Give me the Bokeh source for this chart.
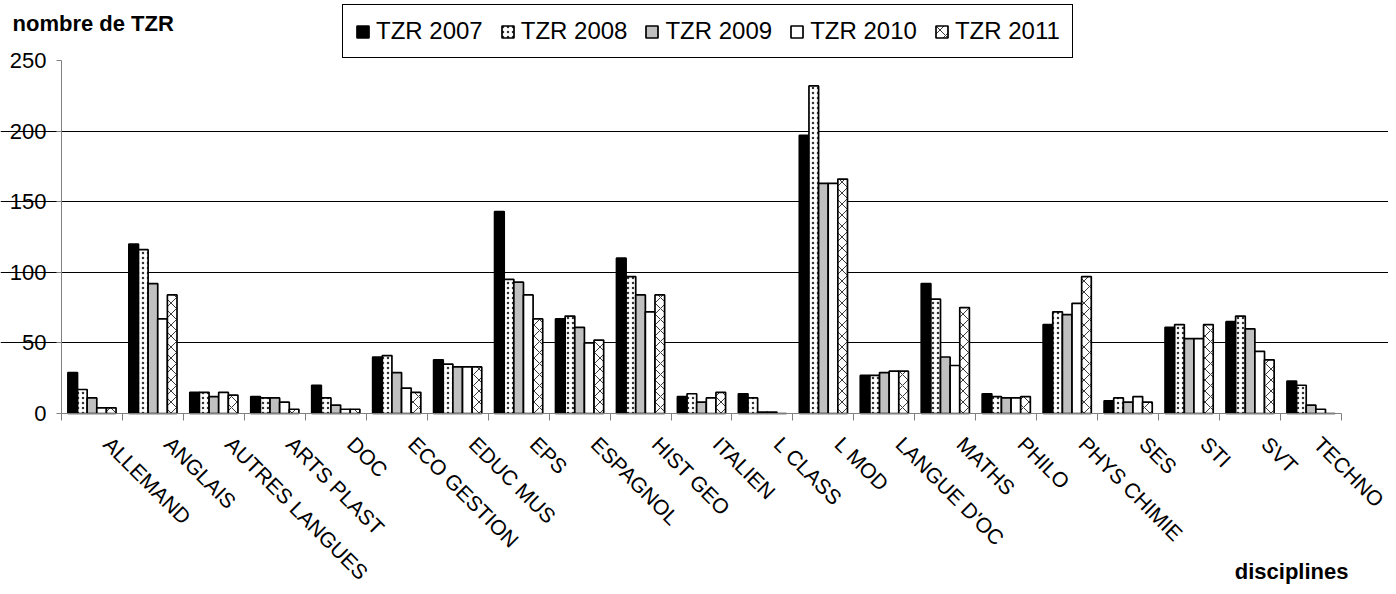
import math
from bokeh.plotting import figure
from bokeh.models import (ColumnDataSource, FixedTicker, Range1d, Legend, LegendItem,
                          Label)
from bokeh.transform import dodge
from bokeh.embed import file_html
from bokeh.resources import INLINE

disciplines = ["ALLEMAND", "ANGLAIS", "AUTRES LANGUES", "ARTS PLAST", "DOC",
               "ECO GESTION", "EDUC MUS", "EPS", "ESPAGNOL", "HIST GEO", "ITALIEN",
               "L CLASS", "L MOD", "LANGUE D'OC", "MATHS", "PHILO", "PHYS CHIMIE",
               "SES", "STI", "SVT", "TECHNO"]
tzr_2007 = [29, 120, 15, 12, 20, 40, 38, 143, 67, 110, 12, 14, 197, 27, 92, 14, 63, 9, 61, 65, 23]
tzr_2008 = [17, 116, 15, 11, 11, 41, 35, 95, 69, 97, 14, 11, 232, 27, 81, 12, 72, 11, 63, 69, 20]
tzr_2009 = [11, 92, 12, 11, 6, 29, 33, 93, 61, 84, 8, 1, 163, 29, 40, 11, 70, 8, 53, 60, 6]
tzr_2010 = [4, 67, 15, 8, 3, 18, 33, 84, 50, 72, 11, 1, 163, 30, 34, 11, 78, 12, 53, 44, 3]
tzr_2011 = [4, 84, 13, 3, 3, 15, 33, 67, 52, 84, 15, 0, 166, 30, 75, 12, 97, 8, 63, 38, 0]
series_names = ["TZR 2007", "TZR 2008", "TZR 2009", "TZR 2010", "TZR 2011"]
y_ticks = [0, 50, 100, 150, 200, 250]
grid_ticks = [50, 100, 150, 200]

FONT = "Liberation Sans"
series = [tzr_2007, tzr_2008, tzr_2009, tzr_2010, tzr_2011]
styles = [
    dict(fill_color="black"),
    dict(fill_color="white", hatch_pattern="dot", hatch_color="#333333", hatch_scale=5, hatch_weight=1.1),
    dict(fill_color="#c0c0c0"),
    dict(fill_color="white"),
    dict(fill_color="white", hatch_pattern="diagonal_cross", hatch_color="#222222", hatch_scale=11, hatch_weight=0.9),
]

n = len(disciplines)
xpos = list(range(n))

W, H = 1388, 586
# plot area in canvas pixels (left, top, right, bottom)
PL, PT, PR, PB = 61, 60, 1341, 413
x_lo, x_hi = -0.5, n - 0.5
y_lo, y_hi = 0, 250
xs = (PR - PL) / (x_hi - x_lo)
ys = (PB - PT) / (y_hi - y_lo)
x_range = Range1d(x_lo - PL / xs, x_hi + (W - PR) / xs)
y_range = Range1d(y_lo - (H - PB) / ys, y_hi + PT / ys)

p = figure(width=W, height=H, output_backend="svg", toolbar_location=None,
           x_range=x_range, y_range=y_range,
           min_border=0, min_border_left=0, min_border_right=0,
           min_border_top=0, min_border_bottom=0)
p.outline_line_color = None
p.background_fill_color = "white"
p.border_fill_color = "white"

bw = 0.158
items = []
for k, (vals, name, st) in enumerate(zip(series, series_names, styles)):
    src = ColumnDataSource(dict(x=xpos, top=vals))
    r = p.vbar(x=dodge("x", (k - 2) * bw, range=p.x_range), top="top", bottom=0, width=bw,
               source=src, line_color="black", line_width=1.7, **st)
    items.append(LegendItem(label=name, renderers=[r]))

# y axis
yax = p.yaxis[0]
yax.fixed_location = x_lo
yax.bounds = (y_lo, y_hi)
yax.ticker = FixedTicker(ticks=y_ticks)
yax.major_label_text_font = FONT
yax.major_label_text_font_size = "22px"
yax.major_label_text_color = "black"
yax.axis_line_color = "#808080"
yax.major_tick_line_color = "#808080"
yax.major_tick_out = 5
yax.major_tick_in = 0
yax.minor_tick_line_color = None
yax.major_label_standoff = 10

# x axis: labels hang slightly right of the category centre, ticks at boundaries
label_shift = 0.25
label_pos = [i + label_shift for i in xpos]
xax = p.xaxis[0]
xax.fixed_location = y_lo
xax.bounds = (x_lo, x_hi)
xax.ticker = FixedTicker(ticks=label_pos, minor_ticks=[i - 0.5 for i in range(n + 1)])
xax.major_label_overrides = {lp: d for lp, d in zip(label_pos, disciplines)}
xax.major_label_orientation = -math.pi / 4
xax.major_label_text_font = FONT
xax.major_label_text_font_size = "21px"
xax.major_label_text_color = "black"
xax.major_label_standoff = 20
xax.major_tick_line_color = None
xax.minor_tick_line_color = "#808080"
xax.minor_tick_out = 7
xax.minor_tick_in = 0
xax.axis_line_color = "#808080"

p.xgrid.grid_line_color = None
p.ygrid.ticker = FixedTicker(ticks=grid_ticks)
p.ygrid.bounds = (x_lo, x_hi)
p.ygrid.grid_line_color = "black"
p.ygrid.grid_line_width = 1

legend = Legend(items=items, orientation="horizontal", location=(342, H - 58),
                label_text_font=FONT, label_text_font_size="24px", label_text_color="black",
                glyph_width=15, glyph_height=15, label_standoff=6, spacing=17,
                padding=12, label_height=24, margin=0,
                border_line_color="black", border_line_width=1, border_line_alpha=1,
                background_fill_color="white", background_fill_alpha=1)
p.add_layout(legend, "center")

p.add_layout(Label(x=12, y=H - 23, x_units="screen", y_units="screen", text="nombre de TZR",
                   text_font=FONT, text_font_style="bold", text_font_size="22px",
                   text_baseline="alphabetic", text_color="black"))
p.add_layout(Label(x=1348, y=15, x_units="screen", y_units="screen", text="disciplines",
                   text_font=FONT, text_font_style="bold", text_font_size="22px",
                   text_baseline="alphabetic", text_align="right", text_color="black"))

open("out.html", "w").write(file_html(p, INLINE))
